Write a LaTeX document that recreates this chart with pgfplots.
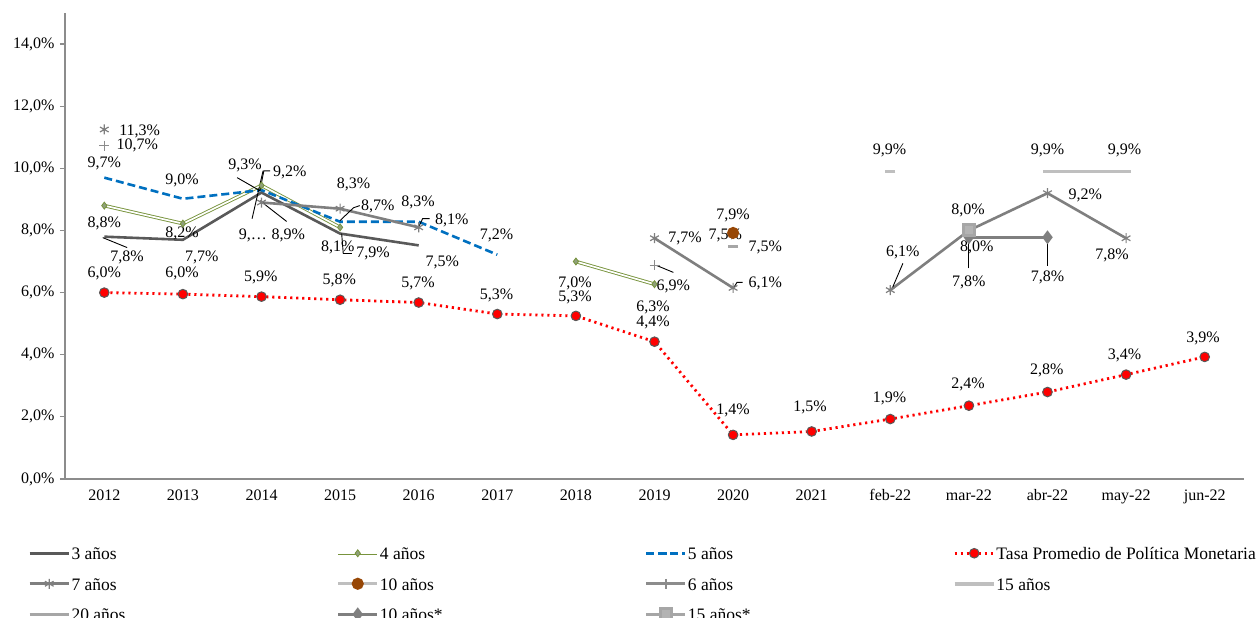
\documentclass[border=0pt]{standalone}
\usepackage{fontspec}
\setmainfont{Liberation Serif}
\usepackage{pgfplots}
\pgfplotsset{compat=1.18}
\definecolor{c3}{HTML}{595959}
\definecolor{c4}{HTML}{77933C}
\definecolor{c4m}{HTML}{8FA07A}
\definecolor{c5}{HTML}{0070C0}
\definecolor{cred}{HTML}{FF0000}
\definecolor{c7}{HTML}{7F7F7F}
\definecolor{c10}{HTML}{974706}
\definecolor{c6}{HTML}{8C8C8C}
\definecolor{c15}{HTML}{BFBFBF}
\definecolor{c20}{HTML}{A6A6A6}
\definecolor{caxis}{HTML}{8C8C8C}
\newcommand{\lb}[3]{\node[inner sep=0pt,text=black] at (axis cs:#1,#2) {#3};}
\begin{document}
\begin{tikzpicture}[font=\fontsize{16bp}{19bp}\selectfont]
\useasboundingbox (-65bp,-139bp) rectangle (1191bp,479bp);
\begin{axis}[
  scale only axis, width=1179bp, height=466bp,
  xmin=-0.5, xmax=14.5, ymin=0, ymax=15,
  axis lines*=left,
  axis line style={draw=caxis, line width=1.5bp},
  xtick={0,...,14},
  xticklabels={2012,2013,2014,2015,2016,2017,2018,2019,2020,2021,feb-22,mar-22,abr-22,may-22,jun-22},
  xtick style={draw=none},
  xticklabel style={yshift=-2bp},
  ytick={0,2,...,14},
  yticklabels={{0,0\%},{2,0\%},{4,0\%},{6,0\%},{8,0\%},{10,0\%},{12,0\%},{14,0\%}},
  ytick style={draw=caxis, line width=1.2bp},
  tick align=outside, major tick length=5bp,
  yticklabel style={xshift=-2bp},
  unbounded coords=jump, clip=false,
  legend columns=4, legend cell align=left,
  legend style={at={(0,0)}, anchor=north west, xshift=-37bp, yshift=-67.5bp,
    draw=none, fill=none, inner sep=0pt, outer sep=0pt,
    font=\fontsize{17.5bp}{20bp}\selectfont,
    /tikz/column sep=0pt, /tikz/row sep=13bp,
    nodes={inner xsep=1bp, inner ysep=0pt, text height=13bp, text depth=4.5bp}},
  legend image code/.code={\draw[mark repeat=2,mark phase=2,#1] plot coordinates {(0bp,2bp) (19.5bp,2bp) (39bp,2bp)};},
]
% 3 anos
\addplot[c3, line width=2.6bp, mark=none] coordinates {(0,7.8) (1,7.7) (2,9.22) (3,7.9) (4,7.52)};
\addlegendentry{\makebox[264bp][l]{3 años}}
% 4 anos
\addplot[c4, line width=0.9bp, double=white, double distance=1.7bp, mark=diamond*, mark size=3.5bp,
  mark options={solid, double distance=0pt, fill=c4m, draw=c4, line width=0.8bp}]
  coordinates {(0,8.8) (1,8.22) (2,9.45) (3,8.1) (4,nan) (5,nan) (6,7.0) (7,6.27)};
\addlegendentry{\makebox[264bp][l]{4 años}}
% 5 anos
\addplot[c5, line width=2.6bp, dash pattern=on 8bp off 4bp, mark=none]
  coordinates {(0,9.7) (1,9.02) (2,9.3) (3,8.28) (4,8.28) (5,7.22)};
\addlegendentry{\makebox[264bp][l]{5 años}}
% Tasa
\addplot[cred, line width=2.8bp, dash pattern=on 2.2bp off 3.8bp, mark=*, mark size=4.8bp,
  mark options={solid, fill=cred, draw=c3, line width=1bp}]
  coordinates {(0,6.0) (1,5.95) (2,5.87) (3,5.77) (4,5.68) (5,5.31) (6,5.25) (7,4.42) (8,1.42) (9,1.53) (10,1.93) (11,2.36) (12,2.8) (13,3.36) (14,3.93)};
\addlegendentry{Tasa Promedio de Política Monetaria}
% 7 anos
\addplot[c7, line width=2.6bp, mark=asterisk, mark size=5bp, mark options={solid, line width=1.2bp}]
  coordinates {(0,11.25) (1,nan) (2,8.9) (3,8.7) (4,8.1) (5,nan) (6,nan) (7,7.75) (8,6.15) (9,nan) (10,6.08) (11,8.0) (12,9.2) (13,7.75)};
\addlegendentry{7 años}
% 10 anos
\addplot[c15, line width=3bp, mark=*, mark size=4.5bp, mark options={solid, fill=c10, draw=c10}]
  coordinates {(8,7.92)};
\addlegendentry{10 años}
% 6 anos
\addplot[c6, line width=2.6bp, mark=+, mark size=5bp, mark options={solid, line width=1.2bp}]
  coordinates {(0,10.73) (1,nan) (7,6.88)};
\addlegendentry{6 años}
% 15 anos
\addplot[c15, line width=3.5bp, mark=-, mark size=5bp, mark options={solid, line width=3.5bp}]
  coordinates {(8,7.48) (9,nan) (10,9.9) (11,nan) (12,9.9) (13,9.9)};
\addlegendentry{15 años}
% 20 anos
\addplot[c20, line width=3.5bp, mark=-, mark size=5bp, mark options={solid, line width=3.5bp}]
  coordinates {(8,7.48)};
\addlegendentry{20 años}
% 10 anos*
\addplot[c7, line width=3bp, mark=diamond*, mark size=4.5bp, mark options={solid, fill=c7, draw=c7}]
  coordinates {(11,7.78) (12,7.78)};
\addlegendentry{10 años*}
% 15 anos*
\addplot[c20, line width=3bp, mark=square*, mark size=5.5bp, mark options={solid, fill=c20!85!white, draw=c20}]
  coordinates {(11,8.0)};
\addlegendentry{15 años*}

% leader lines
\draw[black, line width=0.9bp] (axis cs:-0.02,7.77) -- (axis cs:0.29,7.45);
\draw[black, line width=0.9bp] (axis cs:1.98,9.28) -- (axis cs:2.03,9.92) -- (axis cs:2.11,9.92);
\draw[black, line width=0.9bp] (axis cs:1.69,9.70) -- (axis cs:1.98,9.28);
\draw[black, line width=0.9bp] (axis cs:2.02,9.92) -- (axis cs:1.88,8.38);
\draw[black, line width=0.9bp] (axis cs:1.98,8.96) -- (axis cs:2.32,8.29);
\draw[black, line width=0.9bp] (axis cs:3.0,8.32) -- (axis cs:3.17,8.73) -- (axis cs:3.25,8.8);
\draw[black, line width=0.9bp] (axis cs:3.02,7.90) -- (axis cs:3.04,7.26) -- (axis cs:3.15,7.26);
\draw[black, line width=0.9bp] (axis cs:3.99,8.06) -- (axis cs:4.05,8.38) -- (axis cs:4.14,8.38);
\draw[black, line width=0.9bp] (axis cs:7.03,6.87) -- (axis cs:7.24,6.65);
\draw[black, line width=0.9bp] (axis cs:8.0,6.13) -- (axis cs:8.05,6.33) -- (axis cs:8.12,6.33);
\draw[black, line width=0.9bp] (axis cs:10.03,6.17) -- (axis cs:10.16,6.94);
\draw[black, line width=0.9bp] (axis cs:11.0,6.78) -- (axis cs:11.0,7.9);
\draw[black, line width=0.9bp] (axis cs:12.0,6.87) -- (axis cs:12.0,7.77);

% labels
\lb{0.45}{11.18}{11,3\%}
\lb{0.42}{10.73}{10,7\%}
\lb{0}{10.15}{9,7\%}
\lb{0.99}{9.60}{9,0\%}
\lb{1.79}{10.08}{9,3\%}
\lb{2.36}{9.86}{9,2\%}
\lb{3.17}{9.47}{8,3\%}
\lb{3.48}{8.77}{8,7\%}
\lb{3.99}{8.90}{8,3\%}
\lb{4.42}{8.32}{8,1\%}
\lb{0}{8.22}{8,8\%}
\lb{0.99}{7.90}{8,2\%}
\lb{0.29}{7.13}{7,8\%}
\lb{1.24}{7.13}{7,7\%}
\lb{1.89}{7.84}{9,…}
\lb{2.34}{7.84}{8,9\%}
\lb{2.97}{7.45}{8,1\%}
\lb{3.42}{7.26}{7,9\%}
\lb{4.30}{6.97}{7,5\%}
\lb{4.99}{7.84}{7,2\%}
\lb{0}{6.62}{6,0\%}
\lb{0.99}{6.62}{6,0\%}
\lb{1.99}{6.49}{5,9\%}
\lb{2.99}{6.39}{5,8\%}
\lb{3.99}{6.29}{5,7\%}
\lb{4.99}{5.91}{5,3\%}
\lb{5.99}{5.84}{5,3\%}
\lb{5.99}{6.29}{7,0\%}
\lb{6.98}{5.52}{6,3\%}
\lb{6.98}{5.04}{4,4\%}
\lb{8.0}{2.22}{1,4\%}
\lb{8.98}{2.31}{1,5\%}
\lb{9.99}{2.60}{1,9\%}
\lb{10.99}{3.05}{2,4\%}
\lb{11.99}{3.50}{2,8\%}
\lb{12.98}{3.98}{3,4\%}
\lb{13.98}{4.53}{3,9\%}
\lb{8.0}{8.48}{7,9\%}
\lb{7.90}{7.84}{7,5\%}
\lb{8.41}{7.45}{7,5\%}
\lb{7.39}{7.74}{7,7\%}
\lb{7.24}{6.20}{6,9\%}
\lb{8.41}{6.29}{6,1\%}
\lb{9.99}{10.57}{9,9\%}
\lb{12.0}{10.57}{9,9\%}
\lb{12.98}{10.57}{9,9\%}
\lb{12.48}{9.12}{9,2\%}
\lb{10.99}{8.64}{8,0\%}
\lb{11.10}{7.45}{8,0\%}
\lb{11.0}{6.33}{7,8\%}
\lb{12.0}{6.49}{7,8\%}
\lb{12.82}{7.19}{7,8\%}
\lb{10.16}{7.29}{6,1\%}
\end{axis}
\end{tikzpicture}
\end{document}
